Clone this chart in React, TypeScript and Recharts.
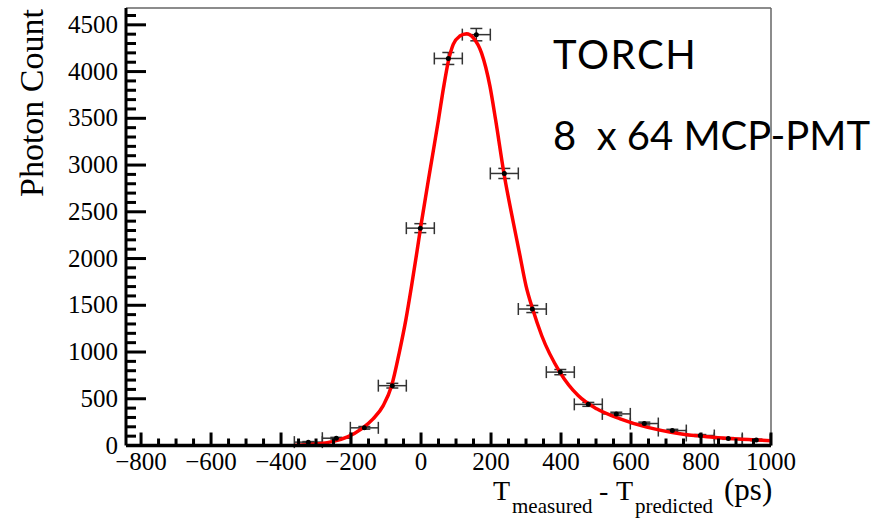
import React from "react";
import {
  ComposedChart,
  Line,
  Scatter,
  ErrorBar,
  XAxis,
  YAxis,
  ReferenceLine,
} from "recharts";

// histogram bins (80 ps wide)
const binCenters = [-322, -242, -162, -82, -2, 78, 158, 238, 318, 398, 478, 558, 638, 718, 798, 878, 958];
const counts = [36, 78, 189, 640, 2325, 4140, 4395, 2910, 1460, 785, 440, 338, 235, 160, 107, 75, 60];
const countErrors = [6, 9, 14, 25, 48, 64, 66, 54, 38, 28, 21, 18, 15, 13, 10, 9, 8];
const binHalfWidth = 40;

// fitted curve
const curveX = [-360, -300, -250, -210, -170, -137, -108, -84, -62, -43, -27, -12, 0, 26, 50, 64, 78, 92, 111, 130, 150, 173, 197, 213, 237, 264, 281, 300, 319, 345, 397, 449, 502, 569, 645, 740, 835, 1000];
const curveY = [2, 17, 44, 92, 178, 285, 427, 640, 997, 1352, 1708, 2064, 2360, 2951, 3487, 3820, 4110, 4290, 4380, 4405, 4358, 4198, 3842, 3487, 2910, 2380, 2064, 1708, 1459, 1174, 783, 534, 392, 285, 196, 125, 89, 52];

const xTicks = Array.from({ length: 37 }, (_, i) => -800 + i * 50);
const yTicks = Array.from({ length: 47 }, (_, i) => i * 100);
const xLabelTicks = [-800, -600, -400, -200, 0, 200, 400, 600, 800, 1000];

const X_MIN = -843;
const X_MAX = 1000;
const Y_MAX = 4680;

const points = binCenters.map((x, i) => ({
  x,
  y: counts[i],
  xe: binHalfWidth,
  ye: countErrors[i],
}));
const curve = curveX.map((x, i) => ({ x, fit: curveY[i] }));

const serif = "'Liberation Serif', 'DejaVu Serif', serif";
const sans = "Lato, 'Open Sans', sans-serif";

function YTick(props: any) {
  const { x, y, payload } = props;
  const v = payload.value;
  const major = v % 500 === 0;
  return (
    <g>
      <line x1={x} x2={x + (major ? 20 : 10)} y1={y} y2={y} stroke="#000" strokeWidth={3} />
      {major && (
        <text x={x - 8} y={y + 8} textAnchor="end" fontFamily={serif} fontSize={25} fill="#000">
          {v}
        </text>
      )}
    </g>
  );
}

function XTick(props: any) {
  const { x, y, payload } = props;
  const v = payload.value;
  const major = v % 200 === 0;
  return (
    <g>
      <line x1={x} x2={x} y1={y} y2={y - (major ? 13 : 7)} stroke="#000" strokeWidth={3} />
      {xLabelTicks.includes(v) && (
        <text x={x} y={y + 24} textAnchor="middle" fontFamily={serif} fontSize={25} fill="#000">
          {v < 0 ? "\u2212" + Math.abs(v) : v}
        </text>
      )}
    </g>
  );
}

function Dot(props: any) {
  const { cx, cy } = props;
  return <circle cx={cx} cy={cy} r={2.5} fill="#000" />;
}

export default function App() {
  return (
    <div style={{ position: "absolute", left: 0, top: 0, background: "#fff" }}>
      <ComposedChart
        width={880}
        height={519}
        margin={{ top: 8, right: 109, bottom: 43.5, left: 66 }}
      >
        <XAxis
          type="number"
          dataKey="x"
          domain={[X_MIN, X_MAX]}
          ticks={xTicks}
          interval={0}
          allowDataOverflow
          height={30}
          tickSize={0}
          tickMargin={0}
          tick={<XTick />}
          axisLine={{ stroke: "#000", strokeWidth: 3.5 }}
          tickLine={false}
        />
        <YAxis
          type="number"
          domain={[0, Y_MAX]}
          ticks={yTicks}
          interval={0}
          allowDataOverflow
          width={60}
          tickSize={0}
          tickMargin={0}
          tick={<YTick />}
          axisLine={{ stroke: "#000", strokeWidth: 3 }}
          tickLine={false}
        />
        <text x={553} y={69} fontFamily={sans} fontSize={40} letterSpacing={1.6} fill="#000">
          TORCH
        </text>
        <text x={553} y={150} fontFamily={sans} fontSize={40} fill="#000" xmlSpace="preserve">
          {"8  x 64 MCP-PMT"}
        </text>
        <text
          transform="translate(43,197) rotate(-90)"
          x={0}
          y={0}
          fontFamily={serif}
          fontSize={34}
          fill="#000"
        >
          Photon Count
        </text>
        <text y={500} fontFamily={serif} fontSize={28} fill="#000">
          <tspan x={493}>T</tspan>
          <tspan x={512} fontSize={21} dy={13}>measured</tspan>
          <tspan x={599} dy={-13}>-</tspan>
          <tspan x={616}>T</tspan>
          <tspan x={635} fontSize={21} dy={13}>predicted</tspan>
          <tspan x={724} fontSize={31} dy={-13}>(ps)</tspan>
        </text>
        <ReferenceLine y={Y_MAX} stroke="#666" strokeWidth={1.5} />
        <ReferenceLine x={X_MAX} stroke="#666" strokeWidth={1.5} />
        <Scatter data={points} dataKey="y" shape={<Dot />} isAnimationActive={false}>
          <ErrorBar dataKey="xe" direction="x" width={6} stroke="#333" strokeWidth={1.5} />
          <ErrorBar dataKey="ye" direction="y" width={6} stroke="#333" strokeWidth={1.5} />
        </Scatter>
        <Line
          data={curve}
          dataKey="fit"
          type="monotone"
          stroke="#ff0000"
          strokeWidth={3.5}
          dot={false}
          activeDot={false}
          isAnimationActive={false}
        />
      </ComposedChart>
    </div>
  );
}
